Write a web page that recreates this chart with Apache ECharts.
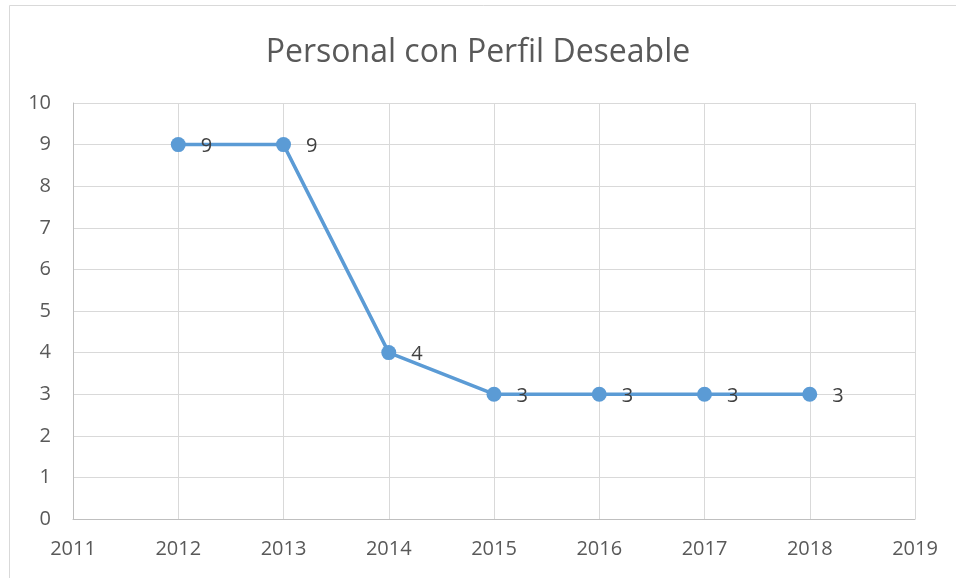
<!DOCTYPE html>
<html><head><meta charset="utf-8">
<script src="https://cdn.jsdelivr.net/npm/echarts@6/dist/echarts.min.js"></script>
<style>html,body{margin:0;padding:0;background:#fff}#c{width:956px;height:578px}</style>
</head><body><div id="c"></div>
<script>
const title = "Personal con Perfil Deseable";
const years = [2012, 2013, 2014, 2015, 2016, 2017, 2018];
const values = [9, 9, 4, 3, 3, 3, 3];
const xMin = 2011, xMax = 2019;
const yMin = 0, yMax = 10;

const chart = echarts.init(document.getElementById('c'), null, {renderer: 'canvas'});
const font = "Open Sans";
chart.setOption({
  animation: false,
  backgroundColor: '#fff',
  graphic: [{
    type: 'rect', shape: {x: 9.5, y: 5.5, width: 960, height: 600},
    style: {fill: 'none', stroke: '#d9d9d9', lineWidth: 1}, silent: true
  }],
  title: {
    text: title, left: 'center', top: 32,
    textStyle: {fontFamily: font, fontSize: 32, fontWeight: 'normal', color: '#595959'}
  },
  grid: {left: 73, right: 41, top: 103, bottom: 59, containLabel: false},
  xAxis: {
    type: 'value', min: xMin, max: xMax, interval: 1,
    axisLine: {show: true, lineStyle: {color: '#bfbfbf', width: 1}},
    axisTick: {show: false},
    splitLine: {show: true, lineStyle: {color: '#d9d9d9', width: 1}},
    axisLabel: {color: '#595959', fontFamily: font, fontSize: 20, margin: 20, formatter: v => String(v)}
  },
  yAxis: {
    type: 'value', min: yMin, max: yMax, interval: 1,
    axisLine: {show: true, lineStyle: {color: '#bfbfbf', width: 1}},
    axisTick: {show: false},
    splitLine: {show: true, lineStyle: {color: '#d9d9d9', width: 1}},
    axisLabel: {color: '#595959', fontFamily: font, fontSize: 20, margin: 22}
  },
  series: [{
    type: 'line',
    data: years.map((y, i) => [y, values[i]]),
    lineStyle: {color: '#5b9bd5', width: 3.5},
    itemStyle: {color: '#5b9bd5'},
    symbol: 'circle', symbolSize: 15,
    label: {show: true, position: 'right', distance: 15, offset: [0, 2], color: '#404040', fontFamily: font, fontSize: 20,
      formatter: p => String(p.value[1])}
  }]
});
</script></body></html>
